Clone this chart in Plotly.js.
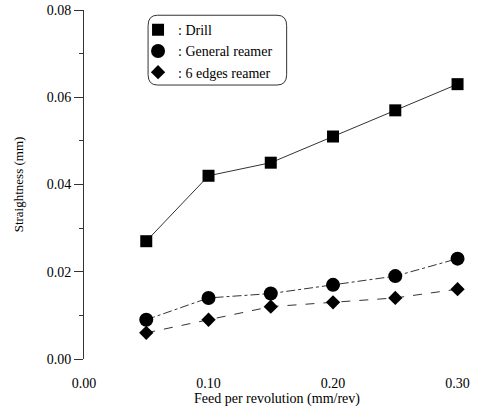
<!DOCTYPE html>
<html>
<head>
<meta charset="utf-8">
<script src="https://cdn.plot.ly/plotly-3.0.1.min.js"></script>
<style>html,body{margin:0;padding:0;background:#fff;}#chart{width:481px;height:411px;}</style>
</head>
<body>
<div id="chart"></div>
<script>
const feed = [0.05, 0.10, 0.15, 0.20, 0.25, 0.30];
const drill = [0.027, 0.042, 0.045, 0.051, 0.057, 0.063];
const generalReamer = [0.009, 0.014, 0.015, 0.017, 0.019, 0.023];
const sixEdgesReamer = [0.006, 0.009, 0.012, 0.013, 0.014, 0.016];
const seriesNames = [': Drill', ': General reamer', ': 6 edges reamer'];
const xTicks = [0.0, 0.1, 0.2, 0.3];
const xTickLabels = ['0.00', '0.10', '0.20', '0.30'];
const yTicks = [0.0, 0.02, 0.04, 0.06, 0.08];
const yTickLabels = ['0.00', '0.02', '0.04', '0.06', '0.08'];

const seriesY = [drill, generalReamer, sixEdgesReamer];
const symbols = ['square', 'circle', 'diamond'];
const sizes = [12, 14, 11];
const dashes = ['solid', 'dashdot', 'dash'];

const FONT = 'Liberation Serif';

const traces = [];
seriesY.forEach((ys, i) => {
  traces.push({
    x: feed, y: ys, type: 'scatter', mode: 'lines', showlegend: false,
    line: {color: '#333', width: 1, dash: dashes[i]}, hoverinfo: 'skip'
  });
});
seriesY.forEach((ys, i) => {
  traces.push({
    x: feed, y: ys, type: 'scatter', mode: 'markers', name: seriesNames[i],
    legendgroup: 'g' + i,
    marker: {symbol: symbols[i], size: sizes[i], color: '#000', line: {width: 0}}
  });
});

const layout = {
  width: 481, height: 411,
  margin: {l: 84, r: 11, t: 10, b: 52},
  paper_bgcolor: '#fff', plot_bgcolor: '#fff',
  font: {family: FONT, color: '#000', size: 14},
  showlegend: true,
  legend: {
    x: 0.14, y: 0.988, xanchor: 'left', yanchor: 'top',
    bgcolor: 'rgba(0,0,0,0)', borderwidth: 0,
    font: {family: FONT, size: 14}, tracegroupgap: 0, itemwidth: 30
  },
  xaxis: {
    range: [0, 0.31], tickvals: xTicks, ticktext: xTickLabels,
    showgrid: false, zeroline: false, showline: false, ticks: '',
    ticklabelstandoff: 14,
    tickfont: {family: FONT, size: 14},
    title: {text: 'Feed per revolution (mm/rev)', font: {family: FONT, size: 14}, standoff: 2}
  },
  yaxis: {
    range: [0, 0.08], tickvals: yTicks, ticktext: yTickLabels,
    showgrid: false, zeroline: false, showline: true, linecolor: '#333', linewidth: 1,
    ticks: 'outside', ticklen: 9, tickcolor: '#333', tickwidth: 1,
    minor: {dtick: 0.01, ticks: 'outside', ticklen: 4, tickcolor: '#333', showgrid: false},
    tickfont: {family: FONT, size: 14},
    title: {text: 'Straightness (mm)', font: {family: FONT, size: 13}, standoff: 20}
  },
  shapes: [{
    type: 'path', xref: 'paper', yref: 'paper',
    path: 'M 0.19 0.985 L 0.5 0.985 Q 0.525 0.985 0.525 0.955 L 0.525 0.815 Q 0.525 0.785 0.5 0.785 L 0.19 0.785 Q 0.166 0.785 0.166 0.815 L 0.166 0.955 Q 0.166 0.985 0.19 0.985 Z',
    line: {color: '#333', width: 1}, fillcolor: 'rgba(0,0,0,0)'
  }]
};

Plotly.newPlot('chart', traces, layout, {staticPlot: true, displayModeBar: false});
</script>
</body>
</html>
